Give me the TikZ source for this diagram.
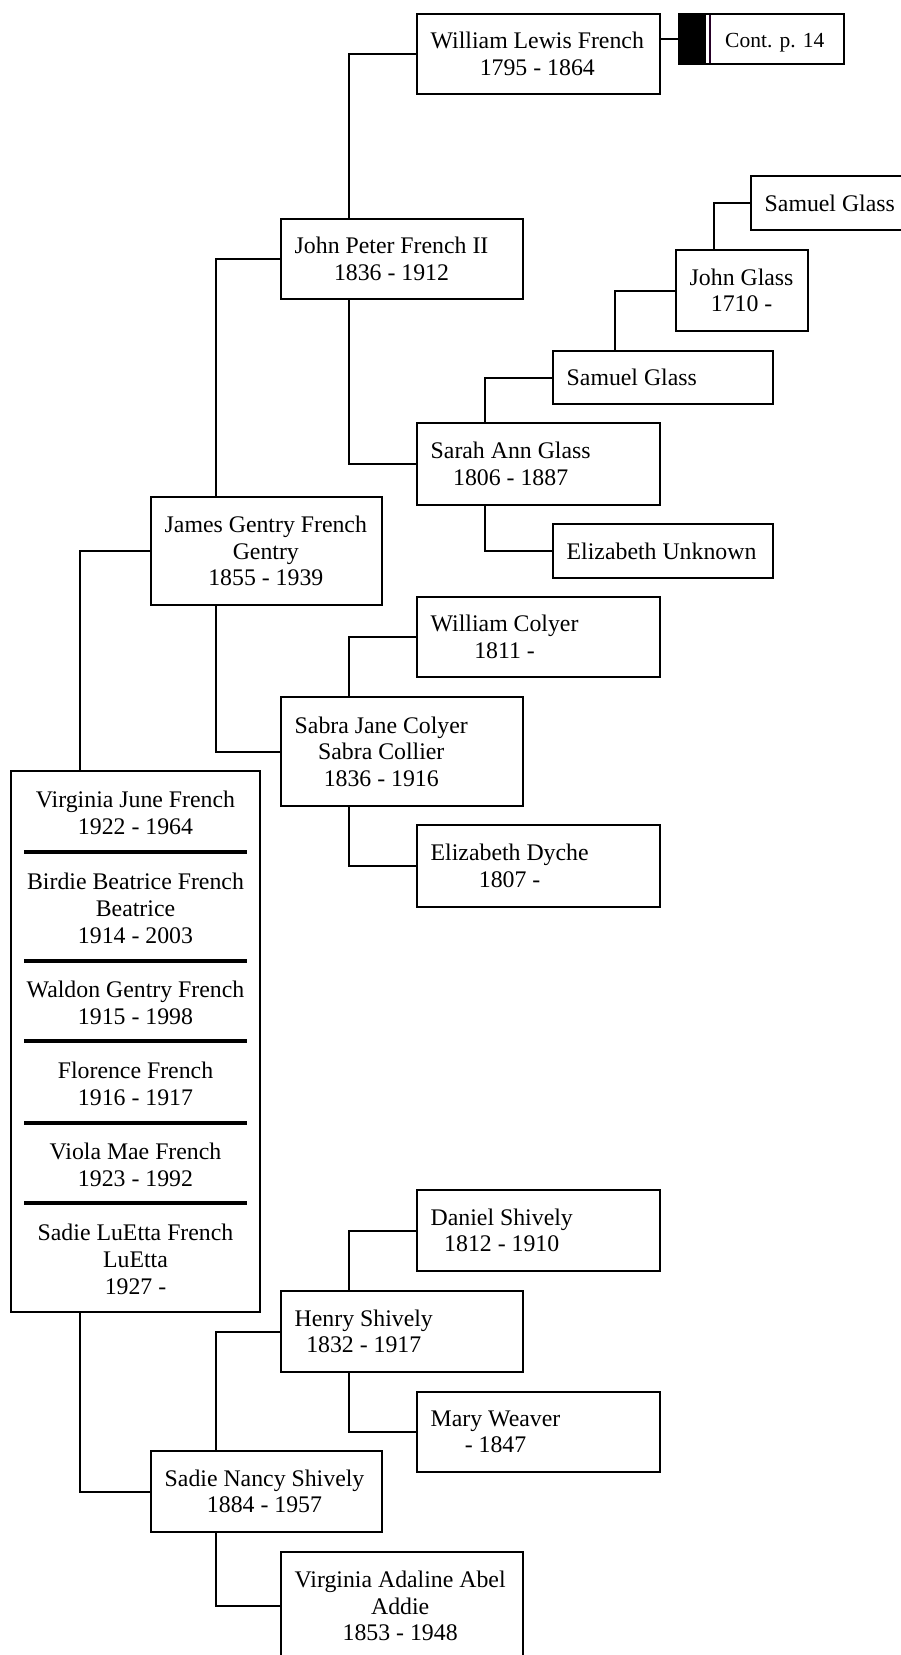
\documentclass[tikz,border=0pt]{standalone}
\usepackage{fontspec}
\setmainfont{Liberation Serif}
\newcommand\pbx[6]{%
  \node[pbox, minimum width={#4-#2}, minimum height={#5-#3}] (#1) at (#2,#3) {};
  \node[ptxt, anchor=west] (#1-t) at ([xshift=13.5pt]#1.west) {#6};}
\begin{document}
\begin{tikzpicture}[x=1pt,y=-1pt,
  pbox/.style={draw, line width=2pt, inner sep=0pt, outer sep=0pt, anchor=north west},
  ptxt/.style={inner sep=0pt, align=center, font=\fontsize{23.8}{26.5}\selectfont},
  ftxt/.style={inner sep=0pt, align=center, font=\fontsize{23.8}{27}\selectfont},
  conn/.style={line width=2pt},
  divl/.style={line width=3.2pt}]
\useasboundingbox (0,0) rectangle (901,1655);
\clip (0,0) rectangle (901,1655);

% continuation box
\fill[black] (679,14) rectangle (706,64);
\draw[line width=1.2pt, black!70!violet] (710,14) -- (710,64);
\node[pbox, minimum width=165, minimum height=50] (CONT) at (679,14) {};
\node[ptxt, font=\fontsize{21.5}{24}\selectfont, anchor=west] (CONT-t) at (725,42.5) {Cont. p. 14};

\pbx{WLF}{417}{14}{660}{94}{William Lewis French\\1795 - 1864}
\pbx{SGa}{751}{176}{920}{230}{Samuel Glass}
\pbx{JG}{676}{250}{808}{331}{John Glass\\1710 -}
\pbx{JPF}{281}{219}{523}{299}{John Peter French II\\1836 - 1912}
\pbx{SGb}{553}{351}{773}{404}{Samuel Glass}
\pbx{SAG}{417}{423}{660}{505}{Sarah Ann Glass\\1806 - 1887}
\pbx{JGF}{151}{497}{382}{605}{James Gentry French\\Gentry\\1855 - 1939}
\pbx{EU}{553}{524}{773}{578}{Elizabeth Unknown}
\pbx{WC}{417}{597}{660}{677}{William Colyer\\1811 -}
\pbx{SJC}{281}{697}{523}{806}{Sabra Jane Colyer\\Sabra Collier\\1836 - 1916}
\pbx{ED}{417}{825}{660}{907}{Elizabeth Dyche\\1807 -}
\pbx{DS}{417}{1190}{660}{1271}{Daniel Shively\\1812 - 1910}
\pbx{HS}{281}{1291}{523}{1372}{Henry Shively\\1832 - 1917}
\pbx{MW}{417}{1392}{660}{1472}{Mary Weaver\\- 1847}
\pbx{SNS}{151}{1451}{382}{1532}{Sadie Nancy Shively\\1884 - 1957}
\pbx{VAA}{281}{1552}{523}{1660}{Virginia Adaline Abel\\Addie\\1853 - 1948}

% family box
\node[pbox, minimum width=249, minimum height=541] (FAM) at (11,771) {};
\draw[divl] (24,852) -- (247,852);
\draw[divl] (24,961) -- (247,961);
\draw[divl] (24,1041) -- (247,1041);
\draw[divl] (24,1123) -- (247,1123);
\draw[divl] (24,1203) -- (247,1203);
\node[ftxt] (F1) at (135.5,813) {Virginia June French\\1922 - 1964};
\node[ftxt] (F2) at (135.5,908) {Birdie Beatrice French\\Beatrice\\1914 - 2003};
\node[ftxt] (F3) at (135.5,1002.5) {Waldon Gentry French\\1915 - 1998};
\node[ftxt] (F4) at (135.5,1084) {Florence French\\1916 - 1917};
\node[ftxt] (F5) at (135.5,1165) {Viola Mae French\\1923 - 1992};
\node[ftxt] (F6) at (135.5,1259) {Sadie LuEtta French\\LuEtta\\1927 -};

% connectors
\draw[conn] (WLF.east |- CONT.west) -- (CONT.west);
\draw[conn] ([xshift=68]JPF.north west) |- (WLF.west);
\draw[conn] ([xshift=38]JG.north west) |- (SGa.west);
\draw[conn] ([xshift=62]SGb.north west) |- (JG.west);
\draw[conn] ([xshift=68]SAG.north west) |- (SGb.west);
\draw[conn] ([xshift=68]SAG.south west) |- (EU.west);
\draw[conn] ([xshift=68]JPF.south west) |- (SAG.west);
\draw[conn] ([xshift=65]JGF.north west) |- (JPF.west);
\draw[conn] ([xshift=65]JGF.south west) |- (SJC.west);
\draw[conn] ([xshift=68]SJC.north west) |- (WC.west);
\draw[conn] ([xshift=68]SJC.south west) |- (ED.west);
\draw[conn] ([xshift=69]FAM.north west) |- (JGF.west);
\draw[conn] ([xshift=69]FAM.south west) |- (SNS.west);
\draw[conn] ([xshift=68]HS.north west) |- (DS.west);
\draw[conn] ([xshift=68]HS.south west) |- (MW.west);
\draw[conn] ([xshift=65]SNS.north west) |- (HS.west);
\draw[conn] ([xshift=65]SNS.south west) |- (VAA.west);
\end{tikzpicture}
\end{document}
